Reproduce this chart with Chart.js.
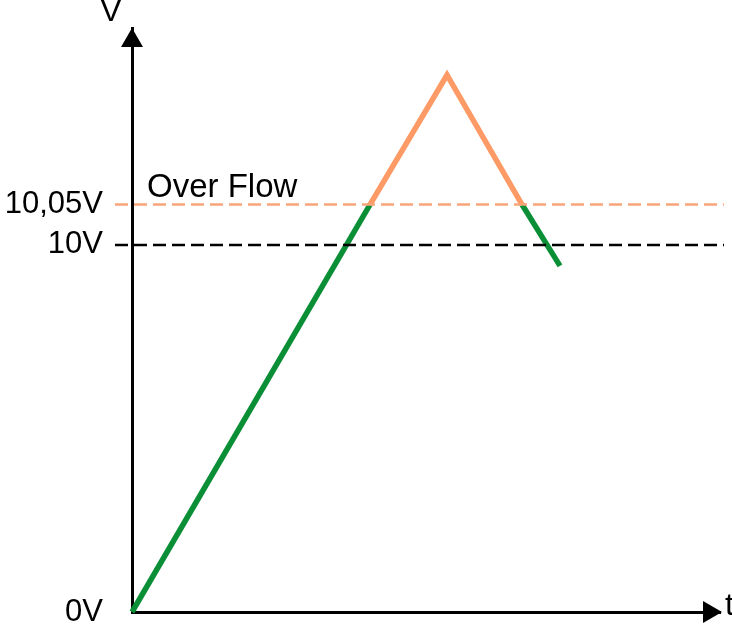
<!DOCTYPE html>
<html>
<head>
<meta charset="utf-8">
<script src="https://cdn.jsdelivr.net/npm/chart.js@4/dist/chart.umd.min.js"></script>
<style>
  html, body { margin: 0; padding: 0; background: #fff; }
  #wrap { width: 732px; height: 626px; }
</style>
</head>
<body>
<div id="wrap"><canvas id="chart"></canvas></div>
<script>
// schematic units: 10V level = 100, time in arbitrary units
const riseT = [0, 23.8];
const riseV = [0, 111];
const overT = [23.8, 31.5, 39.0];
const overV = [111, 146.3, 111];
const fallT = [39.0, 42.8];
const fallV = [111, 94.3];

const overflowLevel = 111;
const refLevel = 100;
const lineStartT = -1.7;
const lineEndT = 59.2;

const yTickValues = [0, 100, 111];
const yTickLabels = ["0V", "10V", "10,05V"];

const toPoints = (ts, vs) => ts.map((t, i) => ({ x: t, y: vs[i] }));

// arrows, axis letters and the "Over Flow" caption
const decor = {
  id: "decor",
  afterDraw(chart) {
    const { ctx, chartArea, scales } = chart;
    const x0 = scales.x.getPixelForValue(0);
    const y0 = scales.y.getPixelForValue(0);
    ctx.save();
    ctx.fillStyle = "#000";
    // y arrow
    ctx.beginPath();
    ctx.moveTo(x0, chartArea.top);
    ctx.lineTo(x0 - 11, chartArea.top + 19);
    ctx.lineTo(x0 + 11, chartArea.top + 19);
    ctx.closePath();
    ctx.fill();
    // x arrow
    ctx.beginPath();
    ctx.moveTo(chartArea.right + 2, y0);
    ctx.lineTo(chartArea.right - 17, y0 - 11);
    ctx.lineTo(chartArea.right - 17, y0 + 11);
    ctx.closePath();
    ctx.fill();

    ctx.font = "32px 'Liberation Sans', Arial, sans-serif";
    ctx.textBaseline = "alphabetic";
    ctx.textAlign = "center";
    ctx.fillText("V", x0 - 21, 21);
    ctx.textAlign = "left";
    ctx.fillText("t", chartArea.right + 5, y0 + 3);

    ctx.font = "33px 'Liberation Sans', Arial, sans-serif";
    ctx.fillText("Over Flow", scales.x.getPixelForValue(1.5), scales.y.getPixelForValue(overflowLevel) - 8);
    ctx.restore();
  }
};

new Chart(document.getElementById("chart"), {
  type: "line",
  data: {
    datasets: [
      {
        data: [{ x: lineStartT, y: refLevel }, { x: lineEndT, y: refLevel }],
        borderColor: "#000",
        borderWidth: 2.5,
        borderDash: [13, 6],
        pointRadius: 0,
        clip: false
      },
      {
        data: [{ x: lineStartT, y: overflowLevel }, { x: lineEndT, y: overflowLevel }],
        borderColor: "#f9a579",
        borderWidth: 2.5,
        borderDash: [13, 6],
        pointRadius: 0,
        clip: false
      },
      {
        data: toPoints(riseT, riseV),
        borderColor: "#0a8f36",
        borderWidth: 5.5,
        pointRadius: 0,
        clip: false
      },
      {
        data: toPoints(overT, overV),
        borderColor: "#fd9a66",
        borderWidth: 5.5,
        pointRadius: 0,
        clip: false
      },
      {
        data: toPoints(fallT, fallV),
        borderColor: "#0a8f36",
        borderWidth: 5.5,
        pointRadius: 0,
        clip: false
      }
    ]
  },
  options: {
    responsive: true,
    maintainAspectRatio: false,
    animation: false,
    layout: { padding: { top: 28, right: 12, left: 0, bottom: 0 } },
    plugins: {
      legend: { display: false },
      tooltip: { enabled: false }
    },
    scales: {
      x: {
        type: "linear",
        min: 0,
        max: 58.8,
        grid: { display: false },
        border: { display: true, color: "#000", width: 3 },
        ticks: { display: false },
        afterFit(scale) { scale.height = 14; }
      },
      y: {
        type: "linear",
        min: 0,
        max: 159.1,
        // tickLength only pushes the labels away from the axis; marks are not drawn
        grid: { display: false, tickLength: 26 },
        border: { display: true, color: "#000", width: 3 },
        afterBuildTicks(scale) {
          scale.ticks = yTickValues.map(v => ({ value: v }));
        },
        ticks: {
          autoSkip: false,
          padding: 3,
          color: "#000",
          font: { size: 31, lineHeight: 0.2, family: "'Liberation Sans', Arial, sans-serif" },
          callback: (v) => yTickLabels[yTickValues.indexOf(v)] || ""
        },
        afterFit(scale) { scale.width = 132; }
      }
    }
  },
  plugins: [decor]
});
</script>
</body>
</html>
